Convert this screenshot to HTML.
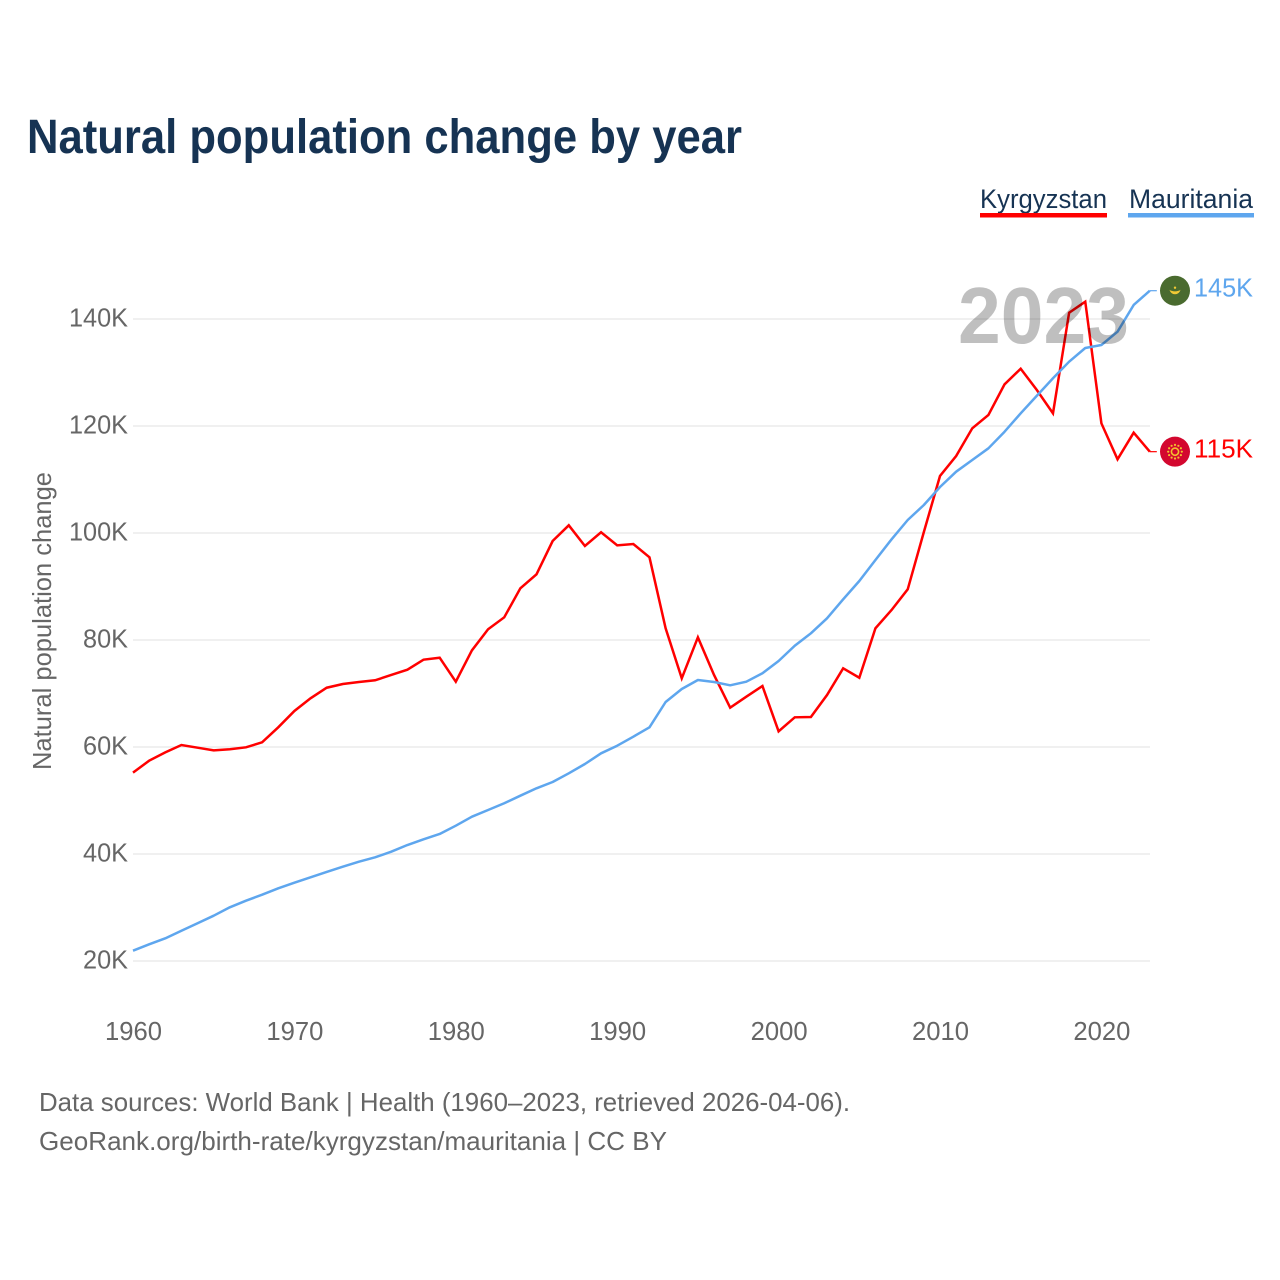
<!DOCTYPE html>
<html lang="en">
<head>
<meta charset="utf-8">
<title>Natural population change by year</title>
<style>
  html, body { margin: 0; padding: 0; background: #fff; }
  body { width: 1280px; height: 1280px; overflow: hidden; position: relative; }
  svg { position: absolute; left: 0; top: 0; display: block; font-family: "Liberation Sans", sans-serif; }
</style>
</head>
<body>
<svg id="chart" xmlns="http://www.w3.org/2000/svg" width="1280" height="1280" viewBox="0 0 1280 1280">
  <text x="27" y="153" font-size="48" font-weight="700" fill="#163353" textLength="715" lengthAdjust="spacingAndGlyphs">Natural population change by year</text>

  <g>
    <text x="980" y="208" font-size="27" fill="#163353" textLength="127" lengthAdjust="spacingAndGlyphs">Kyrgyzstan</text>
    <rect x="980" y="213" width="127" height="4.5" fill="#ff0000"></rect>
  </g>
  <g>
    <text x="1129" y="208" font-size="27" fill="#163353" textLength="124" lengthAdjust="spacingAndGlyphs">Mauritania</text>
    <rect x="1128" y="213" width="126" height="4.5" fill="#5ea6ee"></rect>
  </g>

  <g id="grid"></g>
  <g id="yticks"></g>
  <g id="xticks"></g>

  <text transform="translate(51 770) rotate(-90)" x="0" y="0" font-size="26" fill="#666666" textLength="298" lengthAdjust="spacingAndGlyphs">Natural population change</text>

  <g id="series"></g>
  <g id="ends"></g>

  <text x="958" y="343" font-size="80" font-weight="700" fill="#000000" fill-opacity="0.25" textLength="171" lengthAdjust="spacingAndGlyphs">2023</text>

  <text x="39" y="1111" font-size="26" fill="#666666" textLength="811" lengthAdjust="spacingAndGlyphs">Data sources: World Bank | Health (1960–2023, retrieved 2026-04-06).</text>
  <text x="39" y="1150" font-size="26" fill="#666666" textLength="628" lengthAdjust="spacingAndGlyphs">GeoRank.org/birth-rate/kyrgyzstan/mauritania | CC BY</text>
</svg>

<script>
const startYear = 1960;
const yTickValues = [20, 40, 60, 80, 100, 120, 140];
const xTickYears = [1960, 1970, 1980, 1990, 2000, 2010, 2020];
const kyrgyzstanValues = [
  55.2, 57.44, 59.0, 60.37, 59.87, 59.38, 59.57, 59.94, 60.88, 63.68,
  66.73, 69.1, 71.08, 71.78, 72.15, 72.47, 73.46, 74.45, 76.32, 76.69,
  72.21, 78.07, 82.0, 84.24, 89.66, 92.28, 98.5, 101.44, 97.57, 100.13,
  97.7, 97.94, 95.46, 82.19, 72.84, 80.5, 73.46, 67.35, 69.4, 71.4,
  62.93, 65.55, 65.61, 69.72, 74.71, 72.95, 82.19, 85.61, 89.48, 100.19,
  110.65, 114.39, 119.57, 122.06, 127.79, 130.71, 126.73, 122.37, 141.18, 143.23,
  120.5, 113.78, 118.75, 115.2
];
const mauritaniaValues = [
  21.93, 23.12, 24.24, 25.66, 27.05, 28.47, 30.04, 31.27, 32.39, 33.59,
  34.64, 35.64, 36.64, 37.63, 38.56, 39.38, 40.43, 41.68, 42.75, 43.74,
  45.29, 46.97, 48.22, 49.48, 50.9, 52.28, 53.46, 55.08, 56.82, 58.82,
  60.24, 61.93, 63.68, 68.41, 70.84, 72.52, 72.15, 71.53, 72.21, 73.78,
  76.07, 78.93, 81.25, 84.06, 87.61, 91.03, 94.95, 98.82, 102.43, 105.23,
  108.6, 111.46, 113.64, 115.83, 118.93, 122.37, 125.66, 128.92, 132.02, 134.58,
  135.14, 137.63, 142.62, 145.29
];

const NS = 'http://www.w3.org/2000/svg';
const RED = '#ff0000';
const BLUE = '#5ea6ee';
const GREY = '#666666';

function xScale(year) { return 133 + (year - 1960) * 16.14; }
function yScale(k) { return 961 - (k - 20) * 5.35; }

function make(tag, parentId) {
  const el = document.createElementNS(NS, tag);
  document.getElementById(parentId).appendChild(el);
  return el;
}

// Gridlines and y tick labels
yTickValues.forEach(function (v) {
  const y = yScale(v);
  const line = make('line', 'grid');
  
  
  line.setAttribute('x1', 133);
  line.setAttribute('x2', 1150);
  line.setAttribute('y1', y);
  line.setAttribute('y2', y);
  line.setAttribute('stroke', '#ececec');
  line.setAttribute('stroke-width', 1.4);

  const label = make('text', 'yticks');
  
  
  const width = v >= 100 ? 59 : 45;
  label.setAttribute('x', 128 - width);
  label.setAttribute('y', y + 7.5);
  label.setAttribute('font-size', 25.5);
  label.setAttribute('fill', GREY);
  label.setAttribute('textLength', width);
  label.setAttribute('lengthAdjust', 'spacingAndGlyphs');
  label.textContent = v + 'K';
});

// X tick labels
xTickYears.forEach(function (year) {
  const label = make('text', 'xticks');
  
  
  label.setAttribute('x', xScale(year) - 28);
  label.setAttribute('y', 1040);
  label.setAttribute('font-size', 25.5);
  label.setAttribute('fill', GREY);
  label.setAttribute('textLength', 57);
  label.setAttribute('lengthAdjust', 'spacingAndGlyphs');
  label.textContent = String(year);
});

function pointsFor(values) {
  return values.map(function (v, i) {
    return xScale(startYear + i).toFixed(2) + ',' + yScale(v).toFixed(2);
  }).join(' ');
}

// Series lines
const kyrgyzstanLine = make('polyline', 'series');


kyrgyzstanLine.setAttribute('points', pointsFor(kyrgyzstanValues));
kyrgyzstanLine.setAttribute('fill', 'none');
kyrgyzstanLine.setAttribute('stroke', RED);
kyrgyzstanLine.setAttribute('stroke-width', 2.5);
kyrgyzstanLine.setAttribute('stroke-linejoin', 'miter');

const mauritaniaLine = make('polyline', 'series');


mauritaniaLine.setAttribute('points', pointsFor(mauritaniaValues));
mauritaniaLine.setAttribute('fill', 'none');
mauritaniaLine.setAttribute('stroke', BLUE);
mauritaniaLine.setAttribute('stroke-width', 2.5);
mauritaniaLine.setAttribute('stroke-linejoin', 'round');

// End markers: stub, flag disc, value label
function endMarker(values, color, kind) {
  const lastIndex = values.length - 1;
  const value = values[lastIndex];
  const x = xScale(startYear + lastIndex);
  const y = yScale(value);

  const stub = make('line', 'ends');
  
  
  stub.setAttribute('x1', x);
  stub.setAttribute('x2', x + 7);
  stub.setAttribute('y1', y);
  stub.setAttribute('y2', y);
  stub.setAttribute('stroke', color);
  stub.setAttribute('stroke-width', 1.2);

  const disc = make('circle', 'ends');
  
  
  disc.setAttribute('cx', 1175);
  disc.setAttribute('cy', y);
  disc.setAttribute('r', 15);
  disc.setAttribute('fill', kind === 'mauritania' ? '#4a6b2f' : '#d3072f');

  const sun = make('g', 'ends');
  
  
  sun.setAttribute('transform', 'translate(1175 ' + y + ')');
  if (kind === 'mauritania') {
    sun.innerHTML = '<path d="M-5.5 -1 A5.6 5.6 0 0 0 5.5 -1 A6.5 3.6 0 0 1 -5.5 -1 Z" fill="#f2c935"/><circle cx="0" cy="-3" r="1.2" fill="#f2c935"/>';
  } else {
    let rays = '';
    for (let a = 0; a < 12; a++) {
      const t = a * Math.PI / 6;
      rays += '<circle cx="' + (6.8 * Math.cos(t)).toFixed(2) + '" cy="' + (6.8 * Math.sin(t)).toFixed(2) + '" r="1.1" fill="#f2bf2e"/>';
    }
    sun.innerHTML = rays + '<circle cx="0" cy="0" r="3.6" fill="none" stroke="#f2bf2e" stroke-width="1.6"/>';
  }

  const label = make('text', 'ends');
  
  
  label.setAttribute('x', 1194);
  label.setAttribute('y', y + 6);
  label.setAttribute('font-size', 26);
  label.setAttribute('fill', color);
  label.setAttribute('textLength', 59);
  label.setAttribute('lengthAdjust', 'spacingAndGlyphs');
  label.textContent = Math.round(value) + 'K';
}
endMarker(mauritaniaValues, BLUE, 'mauritania');
endMarker(kyrgyzstanValues, RED, 'kyrgyzstan');
</script>
</body>
</html>
